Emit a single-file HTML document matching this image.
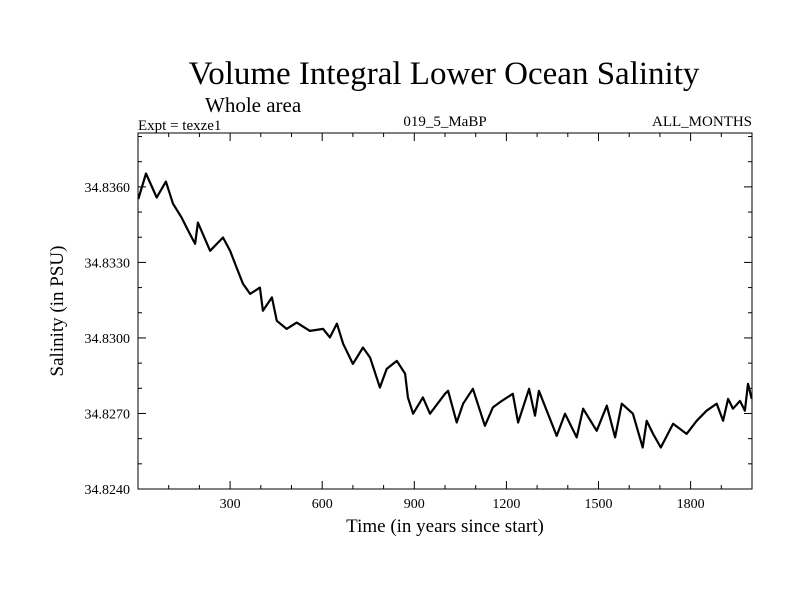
<!DOCTYPE html>
<html><head><meta charset="utf-8"><style>
body{margin:0;background:#fff}
svg{display:block;font-family:"Liberation Serif",serif}
</style></head><body>
<svg id="c" width="800" height="600">
<text x="444" y="84" font-size="33" text-anchor="middle">Volume Integral Lower Ocean Salinity</text>
<text x="205" y="112" font-size="21">Whole area</text>
<text x="138" y="130" font-size="15">Expt = texze1</text>
<text x="445" y="126" font-size="15" text-anchor="middle">019_5_MaBP</text>
<text x="752" y="126" font-size="15" text-anchor="end">ALL_MONTHS</text>
<text x="445" y="532" font-size="19" text-anchor="middle">Time (in years since start)</text>
<text transform="translate(63,311) rotate(-90)" font-size="19" text-anchor="middle">Salinity (in PSU)</text>
<g id="ax"></g>
<path id="ln" fill="none" stroke="#000" stroke-width="2.2" stroke-linejoin="round"/>
<rect x="138" y="133" width="614" height="356" fill="none" stroke="#000" stroke-width="1"/>
</svg>
<script>
const years=[1,26,61,91,114,142,169,186,195,235,277,300,321,342,365,397,407,436,452,484,517,560,603,625,648,668,700,733,756,788,810,843,870,879,896,928,951,1000,1010,1038,1059,1091,1130,1156,1185,1221,1238,1274,1293,1306,1364,1391,1429,1450,1494,1527,1554,1576,1612,1644,1657,1678,1703,1743,1787,1820,1852,1885,1906,1922,1938,1961,1977,1987,1999];
const salinity=[34.83552,34.83653,34.83558,34.83621,34.83533,34.83478,34.83413,34.83374,34.83458,34.83346,34.83399,34.83346,34.83280,34.83215,34.83175,34.83200,34.83108,34.83161,34.83068,34.83036,34.83061,34.83028,34.83036,34.83002,34.83057,34.82977,34.82897,34.82962,34.82922,34.82803,34.82877,34.82909,34.82858,34.82764,34.82699,34.82764,34.82699,34.82778,34.82790,34.82664,34.82739,34.82798,34.82651,34.82724,34.82750,34.82778,34.82664,34.82798,34.82691,34.82790,34.82611,34.82699,34.82605,34.82719,34.82631,34.82731,34.82605,34.82739,34.82699,34.82565,34.82671,34.82619,34.82565,34.82659,34.82619,34.82671,34.82711,34.82739,34.82671,34.82758,34.82719,34.82750,34.82711,34.82818,34.82758];
const xTicks=[300,600,900,1200,1500,1800];
const yTicks=[34.8240,34.8270,34.8300,34.8330,34.8360];
const L=138,R=752,T=133,B=489,X0=0,X1=2000,Y0=34.8240,Y1=34.83814;
const sx=v=>L+(v-X0)/(X1-X0)*(R-L);
const sy=v=>B-(v-Y0)/(Y1-Y0)*(B-T);
const NS="http://www.w3.org/2000/svg";
const ax=document.getElementById('ax');
function line(x1,y1,x2,y2,nm){const l=document.createElementNS(NS,'line');
l.setAttribute('x1',x1);l.setAttribute('y1',y1);l.setAttribute('x2',x2);l.setAttribute('y2',y2);l.setAttribute('stroke','#000');


ax.appendChild(l);}
function text(x,y,s,anc,nm){const t=document.createElementNS(NS,'text');
t.setAttribute('x',x);t.setAttribute('y',y);t.setAttribute('font-size','14');t.setAttribute('text-anchor',anc);t.textContent=s;


ax.appendChild(t);}
for(let v=100;v<X1;v+=100){const x=sx(v);const len=(v%300===0)?8:4;
line(x,B,x,B-len,'x-tick');line(x,T,x,T+len,'x-tick-top');}
xTicks.forEach(v=>text(sx(v),508,String(v),'middle','x-tick-label'));
for(let k=0;k<=14;k++){const v=Y0+k*0.001;if(v>Y1)break;const y=sy(v);const len=(k%3===0)?8:4;
line(L,y,L+len,y,'y-tick');line(R,y,R-len,y,'y-tick-right');}
yTicks.forEach(v=>text(130,sy(v)+5,v.toFixed(4),'end','y-tick-label'));
document.getElementById('ln').setAttribute('d',years.map((y,i)=>(i?'L':'M')+sx(y).toFixed(1)+','+sy(salinity[i]).toFixed(1)).join(''));
</script>
</body></html>
